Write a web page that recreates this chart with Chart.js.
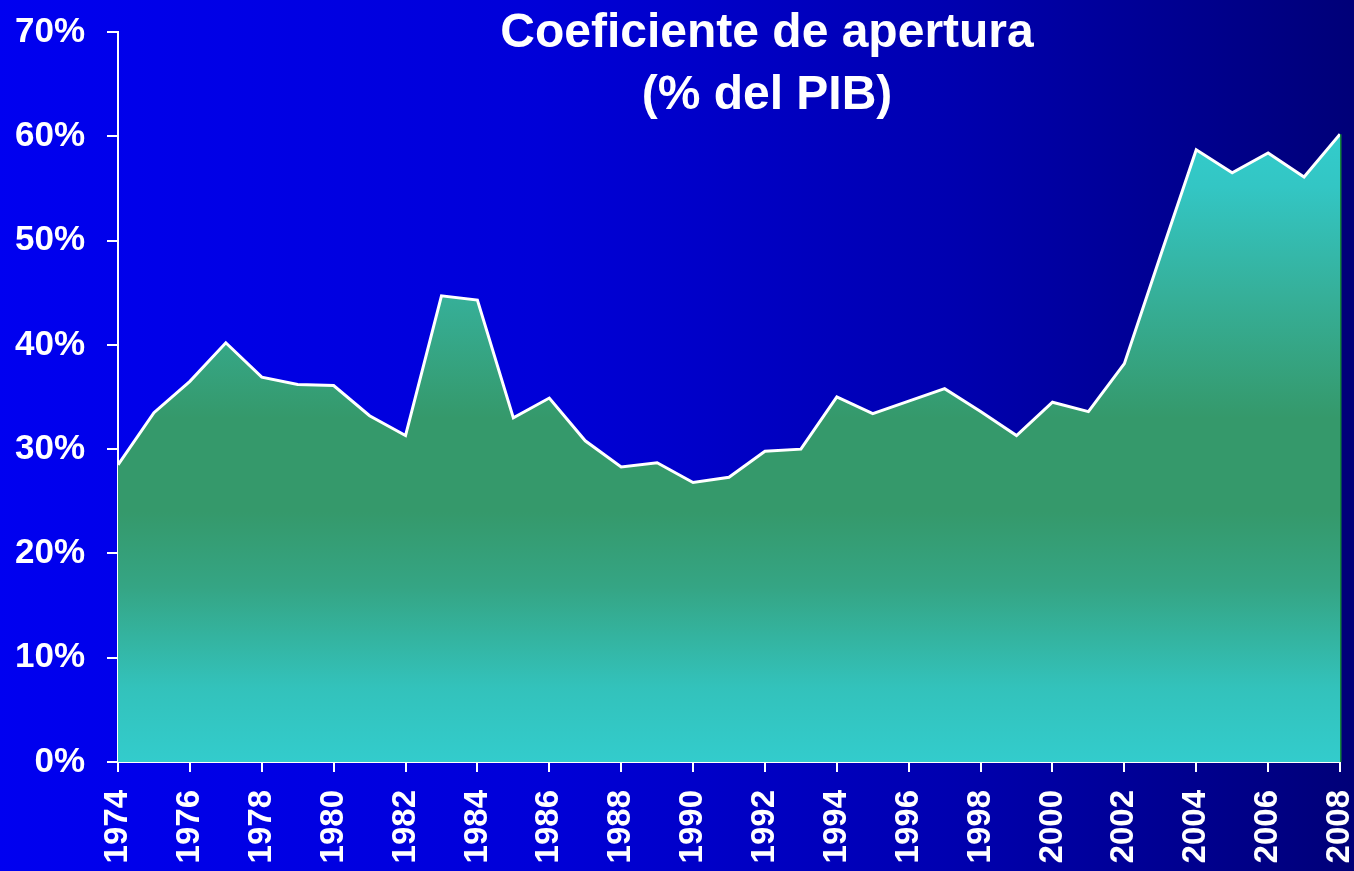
<!DOCTYPE html>
<html lang="es">
<head>
  <meta charset="UTF-8" />
  <title>Coeficiente de apertura</title>
  <style>
    html, body { margin: 0; padding: 0; overflow: hidden; }
    body { width: 1354px; height: 871px; position: relative;
           background: linear-gradient(to right, #0000f0 0%, #0000d8 40%, #0000b0 70%, #000078 100%);
           font-family: 'Liberation Sans', Arial, sans-serif; }
    #chart { position: absolute; left: 0; top: 0; }
    .titulo { position: absolute; left: 367px; top: 0; width: 800px; text-align: center;
              color: #fff; font-weight: bold; font-size: 48px; line-height: 62px; margin: 0; }
  </style>
</head>
<body>

<canvas id="chart" width="1354" height="871"></canvas>
<h1 class="titulo">Coeficiente de apertura<br>(% del PIB)</h1>

<script src="https://cdn.jsdelivr.net/npm/chart.js"></script>
<script>
// años y coeficiente de apertura (% del PIB)
const years = [1974, 1975, 1976, 1977, 1978, 1979, 1980, 1981, 1982, 1983,
               1984, 1985, 1986, 1987, 1988, 1989, 1990, 1991, 1992, 1993,
               1994, 1995, 1996, 1997, 1998, 1999, 2000, 2001, 2002, 2003,
               2004, 2005, 2006, 2007, 2008];
const apertura = [28.5, 33.5, 36.5, 40.2, 36.9, 36.2, 36.1, 33.2, 31.3, 44.7,
                  44.3, 33.0, 34.9, 30.8, 28.3, 28.7, 26.8, 27.3, 29.8, 30.0,
                  35.0, 33.4, 34.6, 35.8, 33.6, 31.3, 34.5, 33.6, 38.2, 48.5,
                  58.7, 56.5, 58.4, 56.1, 60.2];
const yTicks = [0, 10, 20, 30, 40, 50, 60, 70];

const puntos = years.map((y, i) => ({ x: y, y: apertura[i] }));

function relleno(ctx) {
  const chart = ctx.chart;
  const y = chart.scales.y;
  if (!chart.chartArea || !y) return '#35996b';
  const g = chart.ctx.createLinearGradient(0, y.getPixelForValue(0), 0, y.getPixelForValue(60));
  g.addColorStop(0, '#33cccc');
  g.addColorStop(0.12, '#33c2bb');
  g.addColorStop(0.28, '#35a584');
  g.addColorStop(0.40, '#35996b');
  g.addColorStop(0.55, '#35996b');
  g.addColorStop(0.75, '#36b09a');
  g.addColorStop(0.92, '#33c6c4');
  g.addColorStop(1, '#33cccc');
  return g;
}

// borde derecho verde del área
const bordeDerecho = {
  id: 'bordeDerecho',
  beforeDatasetsDraw(chart) {
    const { ctx, scales: { x, y } } = chart;
    const n = years.length - 1;
    ctx.save();
    ctx.strokeStyle = '#13843a';
    ctx.lineWidth = 3;
    ctx.beginPath();
    ctx.moveTo(x.getPixelForValue(years[n]), y.getPixelForValue(apertura[n]));
    ctx.lineTo(x.getPixelForValue(years[n]), y.getPixelForValue(0));
    ctx.stroke();
    ctx.restore();
  }
};

const fuenteX = { family: "'Liberation Sans', Arial, sans-serif", size: 33, weight: 'bold' };
const fuenteY = { family: "'Liberation Sans', Arial, sans-serif", size: 35, weight: 'bold' };

new Chart(document.getElementById('chart'), {
  type: 'line',
  data: {
    datasets: [{
      data: puntos,
      borderColor: '#ffffff',
      borderWidth: 3,
      backgroundColor: relleno,
      fill: 'origin',
      tension: 0,
      pointRadius: 0
    }]
  },
  options: {
    responsive: false,
    animation: false,
    layout: { padding: { top: 32, right: 14, left: 0, bottom: 0 } },
    plugins: { legend: { display: false }, tooltip: { enabled: false } },
    scales: {
      x: {
        type: 'linear',
        min: 1974, max: 2008,
        afterFit(s) { s.height = 109; s.paddingRight = 14; s.paddingLeft = 0; },
        afterBuildTicks(s) { s.ticks = years.filter(v => (v - 1974) % 2 === 0).map(v => ({ value: v })); },
        ticks: {
          color: '#ffffff', font: fuenteX, padding: 18,
          maxRotation: 90, minRotation: 90, autoSkip: false,
          callback: v => String(v)
        },
        grid: { drawOnChartArea: false, color: '#ffffff', lineWidth: 2, tickLength: 10 },
        border: { color: '#ffffff', width: 2 }
      },
      y: {
        min: 0, max: 70,
        afterFit(s) { s.width = 118; s.paddingTop = 0; s.paddingBottom = 0; },
        afterBuildTicks(s) { s.ticks = yTicks.map(v => ({ value: v })); },
        ticks: { color: '#ffffff', font: fuenteY, padding: 22, callback: v => v + '%' },
        grid: { drawOnChartArea: false, color: '#ffffff', lineWidth: 2, tickLength: 11 },
        border: { color: '#ffffff', width: 2 }
      }
    }
  },
  plugins: [bordeDerecho]
});
</script>

</body>
</html>
